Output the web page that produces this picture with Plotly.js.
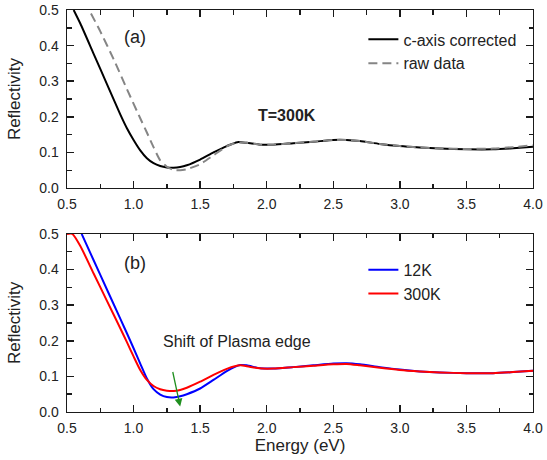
<!DOCTYPE html>
<html>
<head>
<meta charset="utf-8">
<script src="https://cdn.plot.ly/plotly-3.0.1.min.js"></script>
<style>html,body{margin:0;padding:0;background:#fff;}#chart{width:547px;height:460px;}</style>
</head>
<body>
<div id="chart"></div>
<script>
// ---- Panel (a): T = 300K ----
var energyCorrected = [0.55,0.6,0.7,0.8,0.9,0.95,1.0,1.05,1.1,1.15,1.2,1.25,1.3,1.35,1.4,1.5,1.6,1.7,1.78,1.85,1.95,2.05,2.2,2.35,2.5,2.6,2.7,2.85,3.0,3.15,3.3,3.5,3.7,3.85,4.0];
var reflCorrected   = [0.5,0.462,0.377,0.292,0.207,0.168,0.135,0.106,0.084,0.07,0.062,0.058,0.057,0.059,0.064,0.08,0.1,0.118,0.129,0.127,0.122,0.122,0.126,0.13,0.135,0.135,0.132,0.124,0.118,0.114,0.111,0.109,0.109,0.112,0.116];

var energyRaw = [0.68,0.75,0.85,0.95,1.05,1.1,1.15,1.2,1.25,1.3,1.35,1.4,1.5,1.6,1.7,1.78,1.85,1.95,2.05,2.2,2.35,2.5,2.6,2.7,2.85,3.0,3.15,3.3,3.5,3.7,3.85,4.0];
var reflRaw   = [0.49,0.44,0.362,0.278,0.196,0.156,0.115,0.078,0.06,0.051,0.05,0.053,0.067,0.092,0.117,0.128,0.127,0.122,0.122,0.126,0.13,0.135,0.135,0.132,0.124,0.118,0.114,0.111,0.11,0.111,0.115,0.12];

// ---- Panel (b): 12K vs 300K ----
var energy12K = [0.61,0.7,0.8,0.9,0.95,1.0,1.05,1.1,1.15,1.2,1.25,1.3,1.35,1.4,1.5,1.6,1.7,1.8,1.85,1.95,2.05,2.2,2.35,2.5,2.6,2.7,2.85,3.0,3.15,3.3,3.5,3.7,3.85,4.0];
var refl12K   = [0.5,0.426,0.344,0.262,0.221,0.179,0.136,0.094,0.064,0.049,0.042,0.041,0.044,0.05,0.066,0.09,0.115,0.132,0.131,0.123,0.122,0.126,0.131,0.136,0.137,0.134,0.126,0.119,0.114,0.111,0.109,0.109,0.112,0.116];

var energy300K = [0.5,0.54,0.6,0.7,0.8,0.9,0.95,1.0,1.05,1.1,1.15,1.2,1.25,1.3,1.35,1.4,1.5,1.6,1.7,1.8,1.87,1.97,2.05,2.2,2.35,2.5,2.6,2.7,2.85,3.0,3.15,3.3,3.5,3.7,3.85,4.0];
var refl300K   = [0.5,0.5,0.466,0.389,0.312,0.235,0.196,0.156,0.118,0.09,0.073,0.064,0.06,0.059,0.062,0.068,0.085,0.104,0.121,0.131,0.127,0.122,0.122,0.126,0.13,0.134,0.135,0.131,0.124,0.118,0.114,0.111,0.109,0.109,0.112,0.116];

// ---- Text ----
var seriesNames = ['c-axis corrected','raw data','12K','300K'];
var xTitle = 'Energy (eV)';
var yTitle = 'Reflectivity';
var panelLabels = ['(a)','(b)'];
var tempLabel = 'T=300K';
var shiftLabel = 'Shift of Plasma edge';
var arrowFrom = [1.292, 0.1165];
var arrowTo = [1.35, 0.0156];

var FONT = 'Liberation Sans, Arial, Helvetica, sans-serif';

var traces = [
  {x: energyCorrected, y: reflCorrected, name: seriesNames[0], type:'scatter', mode:'lines',
   line:{color:'#000000', width:2, shape:'spline', smoothing:0.6}, xaxis:'x', yaxis:'y', legend:'legend'},
  {x: energyRaw, y: reflRaw, name: seriesNames[1], type:'scatter', mode:'lines',
   line:{color:'#858585', width:2, dash:'9px,5px', shape:'spline', smoothing:0.6}, xaxis:'x', yaxis:'y', legend:'legend'},
  {x: energy12K, y: refl12K, name: seriesNames[2], type:'scatter', mode:'lines',
   line:{color:'#0000ff', width:2, shape:'spline', smoothing:0.6}, xaxis:'x2', yaxis:'y2', legend:'legend2'},
  {x: energy300K, y: refl300K, name: seriesNames[3], type:'scatter', mode:'lines',
   line:{color:'#ff0000', width:2, shape:'spline', smoothing:0.6}, xaxis:'x2', yaxis:'y2', legend:'legend2'}
];

function xAx(anchor, withTitle){
  var a = {
    range:[0.5,4.0], dtick:0.5, tick0:0.5, tickformat:'.1f', anchor:anchor,
    ticks:'inside', ticklen:7, tickwidth:1.5, tickcolor:'#1a1a1a',
    minor:{dtick:0.25, ticks:'inside', ticklen:4.5, tickwidth:1.5, tickcolor:'#1a1a1a', showgrid:false},
    showline:true, linecolor:'#1a1a1a', linewidth:1.4, mirror:'ticks',
    showgrid:false, zeroline:false, ticklabelstandoff:3,
    tickfont:{family:FONT, size:14, color:'#222'}, fixedrange:true
  };
  if (withTitle) a.title = {text:xTitle, font:{family:FONT, size:17, color:'#222'}, standoff:4};
  return a;
}
function yAx(anchor, domain){
  return {
    range:[0,0.5], dtick:0.1, tick0:0, tickformat:'.1f', anchor:anchor, domain:domain,
    ticks:'inside', ticklen:7, tickwidth:1.5, tickcolor:'#1a1a1a',
    minor:{dtick:0.05, ticks:'inside', ticklen:4.5, tickwidth:1.5, tickcolor:'#1a1a1a', showgrid:false},
    showline:true, linecolor:'#1a1a1a', linewidth:1.4, mirror:'ticks',
    showgrid:false, zeroline:false, ticklabelstandoff:4,
    tickfont:{family:FONT, size:14, color:'#222'}, fixedrange:true,
    title:{text:yTitle, font:{family:FONT, size:17, color:'#222'}, standoff:14}
  };
}

var layout = {
  width:547, height:460,
  margin:{l:67, r:14, t:10, b:48, pad:0},
  paper_bgcolor:'#ffffff', plot_bgcolor:'#ffffff',
  font:{family:FONT, color:'#222'},
  xaxis: xAx('y', false),
  yaxis: yAx('x', [0.557,1]),
  xaxis2: xAx('y2', true),
  yaxis2: yAx('x2', [0,0.443]),
  legend:{x:0.636, y:0.969, xanchor:'left', yanchor:'top', bgcolor:'rgba(0,0,0,0)',
          font:{family:FONT, size:16, color:'#222'}, tracegroupgap:0, itemwidth:30},
  legend2:{x:0.636, y:0.396, xanchor:'left', yanchor:'top', bgcolor:'rgba(0,0,0,0)',
          font:{family:FONT, size:16, color:'#222'}, tracegroupgap:0, itemwidth:30},
  showlegend:true,
  annotations:[
    {x:1.01, y:0.423, xref:'x', yref:'y', text:panelLabels[0], showarrow:false,
     font:{family:FONT, size:18, color:'#222'}},
    {x:1.01, y:0.418, xref:'x2', yref:'y2', text:panelLabels[1], showarrow:false,
     font:{family:FONT, size:18, color:'#222'}},
    {x:2.154, y:0.205, xref:'x', yref:'y', text:'<b>'+tempLabel+'</b>', showarrow:false,
     font:{family:FONT, size:16, color:'#222'}},
    {x:1.774, y:0.197, xref:'x2', yref:'y2', text:shiftLabel, showarrow:false,
     font:{family:FONT, size:16, color:'#222'}},
    {x:arrowTo[0], y:arrowTo[1], ax:arrowFrom[0], ay:arrowFrom[1], xref:'x2', yref:'y2',
     axref:'x2', ayref:'y2', text:'', showarrow:true, arrowhead:2, arrowsize:1.2,
     arrowwidth:1.3, arrowcolor:'#1f8f1f'}
  ]
};

Plotly.newPlot('chart', traces, layout, {displayModeBar:false, staticPlot:true});
</script>
</body>
</html>
